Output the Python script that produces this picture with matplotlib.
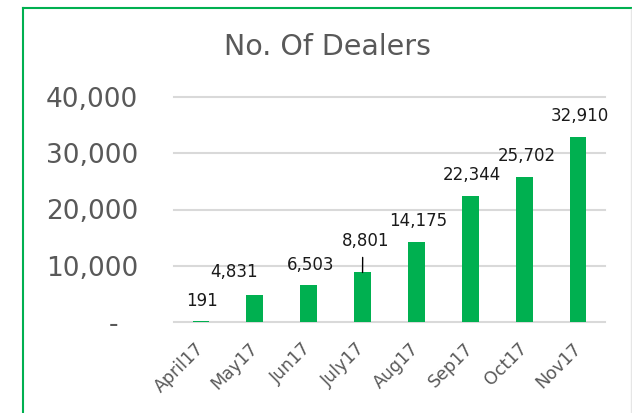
import matplotlib
matplotlib.use("Agg")
import matplotlib.pyplot as plt
import matplotlib.transforms as mtransforms
from matplotlib.lines import Line2D
import numpy as np

# Data
months = ["April17", "May17", "Jun17", "July17", "Aug17", "Sep17", "Oct17", "Nov17"]
dealers = [191, 4831, 6503, 8801, 14175, 22344, 25702, 32910]
y_ticks = [0, 10000, 20000, 30000, 40000]
y_tick_labels = ["-", "10,000", "20,000", "30,000", "40,000"]

# label offsets in pixels (dx, dy) from the bar top, as placed in the original
label_offsets = [(1, 20), (-21, 23), (2, 20), (3, 31), (2, 21), (2, 21), (3, 21), (2, 21)]

W, H, DPI = 632, 413, 100
fig = plt.figure(figsize=(W / DPI, H / DPI), dpi=DPI)
ax = fig.add_axes([174 / W, 1 - 322 / H, (605 - 174) / W, (322 - 97) / H])

gray = "#595959"
green = "#00B050"

x = np.arange(len(months))
ax.bar(x, dealers, width=0.31, color=green, zorder=3)

ax.set_xlim(-0.5, len(months) - 0.5)
ax.set_ylim(0, 40000)
ax.set_yticks(y_ticks)
ax.set_yticklabels(y_tick_labels, fontsize=19, color=gray)
ax.set_xticks(x)
ax.set_xticklabels(months, fontsize=12.5, color=gray, rotation=45,
                   ha="right", va="center", rotation_mode="anchor")
ax.tick_params(axis="y", length=0, pad=26)
ax.tick_params(axis="x", length=0, pad=17)
for s in ax.spines.values():
    s.set_visible(False)
ax.grid(axis="y", color="#D9D9D9", linewidth=1.5, zorder=0)
ax.set_axisbelow(True)
for gl in ax.get_ygridlines():
    gl.set_clip_on(False)

# nudge the "-" zero label to the left like the accounting format
zero_lbl = ax.yaxis.get_major_ticks()[0].label1
zero_lbl.set_transform(zero_lbl.get_transform()
                       + mtransforms.ScaledTranslation(-20 / DPI, 0, fig.dpi_scale_trans))

# data labels
for i, v in enumerate(dealers):
    dx, dy = label_offsets[i]
    kw = {}
    if i == 3:
        kw["arrowprops"] = dict(arrowstyle="-", color="black", lw=1.0,
                                shrinkA=3, shrinkB=0, relpos=(0.44, 0))
    ax.annotate(f"{v:,}", xy=(i, v), xytext=(dx * 0.72, dy * 0.72),
                textcoords="offset points", ha="center", va="center",
                fontsize=12, color="#1a1a1a", annotation_clip=False, **kw)

# title
fig.text(328 / W, 1 - 55 / H, "No. Of Dealers", fontsize=20.5, color=gray,
         ha="center", va="baseline")

# chart border
fig.add_artist(Line2D([23 / W, 23 / W], [0, 1 - 8.3 / H], transform=fig.transFigure,
                      color=green, lw=1.5))
fig.add_artist(Line2D([23 / W, 1], [1 - 8.3 / H, 1 - 8.3 / H], transform=fig.transFigure,
                      color=green, lw=1.5))
fig.add_artist(Line2D([630.5 / W, 630.5 / W], [0, 1 - 9 / H], transform=fig.transFigure,
                      color="#E6E6E6", lw=1.0))

plt.savefig("out.png", dpi=DPI)
